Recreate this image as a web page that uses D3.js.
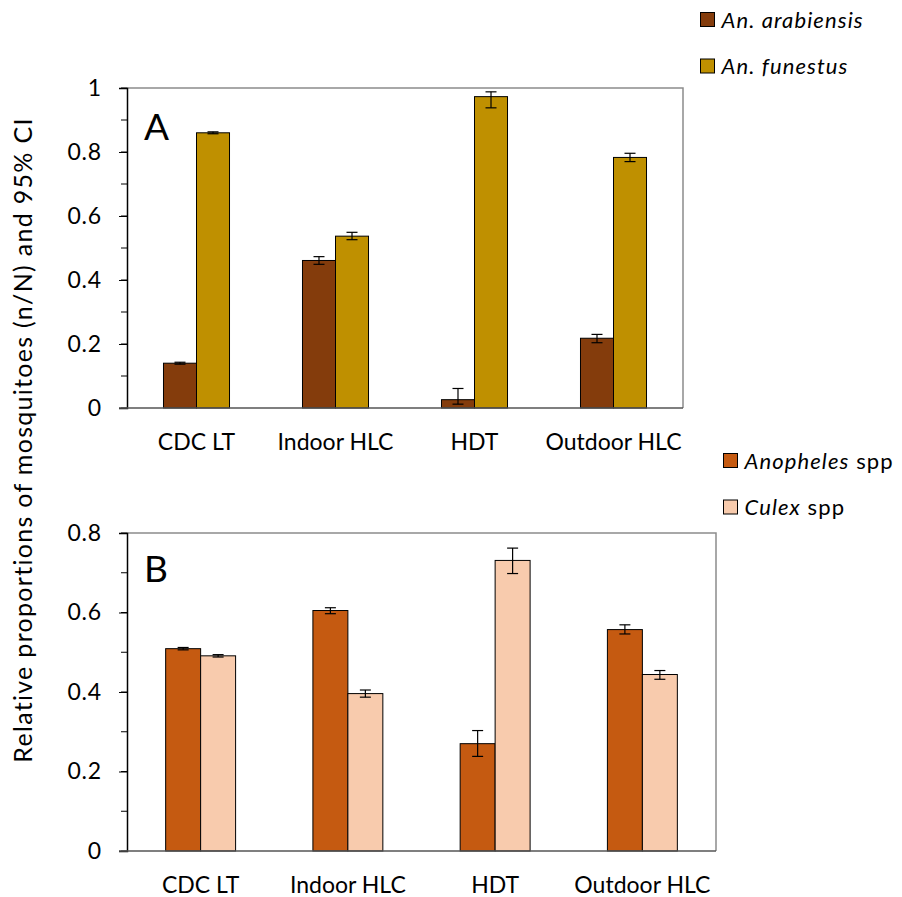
<!DOCTYPE html>
<html>
<head>
<meta charset="utf-8">
<script src="https://cdn.jsdelivr.net/npm/d3@7"></script>
<style>
  body { margin: 0; background: #fff; }
  text { font-family: Lato, "Open Sans", sans-serif; fill: #000; }
</style>
</head>
<body>
<svg id="chart" width="902" height="897"></svg>
<script>
// categories shared by both panels
const categories = ["CDC LT", "Indoor HLC", "HDT", "Outdoor HLC"];

// panel A - species composition
const arabiensis   = [0.140, 0.461, 0.026, 0.218];
const arabiensisLo = [0.137, 0.449, 0.012, 0.204];
const arabiensisHi = [0.143, 0.473, 0.061, 0.230];
const funestus     = [0.860, 0.537, 0.973, 0.783];
const funestusLo   = [0.857, 0.526, 0.938, 0.770];
const funestusHi   = [0.863, 0.549, 0.988, 0.796];
const ticksA = [0, 0.2, 0.4, 0.6, 0.8, 1];

// panel B - genus composition
const anopheles   = [0.509, 0.605, 0.270, 0.557];
const anophelesLo = [0.506, 0.597, 0.238, 0.546];
const anophelesHi = [0.512, 0.612, 0.303, 0.569];
const culex       = [0.491, 0.396, 0.731, 0.444];
const culexLo     = [0.488, 0.387, 0.698, 0.432];
const culexHi     = [0.494, 0.405, 0.762, 0.454];
const ticksB = [0, 0.2, 0.4, 0.6, 0.8];

const svg = d3.select("#chart");

//------------------------------one panel-------------------------------------
function panel(opt) {
  const x = d3.scaleBand().domain(categories).range([opt.left, opt.right]).padding(0);
  const y = d3.scaleLinear().domain([0, opt.max]).range([opt.bottom, opt.top]);
  const bw = x.bandwidth() * 0.2375;
  const g = svg.append("g");

  // frame (grey top/right)
  g.append("path")
    .attr("d", `M${opt.left},${opt.top}H${opt.right}V${opt.bottom}`)
    .attr("fill", "none").attr("stroke", "#8c8c8c").attr("stroke-width", 1.5);

  // minor ticks
  const minor = d3.range(0, opt.max + 0.001, 0.1);
  g.selectAll(".minor").data(minor).join("line")
    .attr("x1", opt.left - 6).attr("x2", opt.left)
    .attr("y1", d => y(d)).attr("y2", d => y(d))
    .attr("stroke", "#000").attr("stroke-width", 1);

  // y axis
  const yAxis = d3.axisLeft(y).tickValues(opt.ticks).tickSize(8).tickPadding(17)
    .tickFormat(d => d === 0 || d === 1 ? d3.format("d")(d) : d3.format(".1f")(d));
  const ya = g.append("g").attr("transform", `translate(${opt.left},0)`).call(yAxis);
  ya.select(".domain").attr("stroke", "#000").attr("stroke-width", 1.5);
  ya.selectAll(".tick line").attr("stroke", "#000");
  ya.selectAll("text").style("font-size", "23px").style("letter-spacing", "0.8px").attr("fill", "#000");

  // series
  opt.series.forEach((s, si) => {
    const off = si === 0 ? -bw : 0;
    g.selectAll(".bar" + si).data(categories).join("rect")
      .attr("x", d => x(d) + x.bandwidth() / 2 + off)
      .attr("y", (d, i) => y(s.values[i]))
      .attr("width", bw)
      .attr("height", (d, i) => opt.bottom - y(s.values[i]))
      .attr("fill", s.color).attr("stroke", "#000").attr("stroke-width", 1);

    // error bars
    categories.forEach((c, i) => {
      const cx = x(c) + x.bandwidth() / 2 + off + bw / 2;
      const e = g.append("g").attr("stroke", "#000").attr("stroke-width", 1.2);
      e.append("line").attr("x1", cx).attr("x2", cx).attr("y1", y(s.lo[i])).attr("y2", y(s.hi[i]));
      e.append("line").attr("x1", cx - 5.5).attr("x2", cx + 5.5).attr("y1", y(s.lo[i])).attr("y2", y(s.lo[i]));
      e.append("line").attr("x1", cx - 5.5).attr("x2", cx + 5.5).attr("y1", y(s.hi[i])).attr("y2", y(s.hi[i]));
    });
  });

  // bottom axis line
  g.append("line")
    .attr("x1", opt.left - 8).attr("x2", opt.right)
    .attr("y1", opt.bottom).attr("y2", opt.bottom)
    .attr("stroke", "#555").attr("stroke-width", 1.5);

  // category labels
  g.selectAll(".cat").data(categories).join("text")
    .attr("x", d => x(d) + x.bandwidth() / 2)
    .attr("y", opt.bottom + 42)
    .attr("text-anchor", "middle")
    .style("font-size", "23px")
    .text(d => d);

  // panel letter
  g.append("text").attr("x", opt.left + 17).attr("y", opt.letterY)
    .style("font-size", "37px").text(opt.letter);

  // legend
  opt.series.forEach((s, si) => {
    const ly = opt.legY + si * 46.5;
    g.append("rect").attr("x", opt.legX).attr("y", ly).attr("width", 14).attr("height", 14)
      .attr("fill", s.color).attr("stroke", "#000").attr("stroke-width", 1);
    const t = g.append("text").attr("x", opt.legX + 21).attr("y", ly + 15)
      .style("font-size", "22px").style("letter-spacing", "1.1px");
    t.append("tspan").style("font-style", "italic").text(s.name);
    if (s.suffix) t.append("tspan").text(s.suffix);
  });
}

panel({
  left: 127, right: 683, top: 88, bottom: 408, max: 1, ticks: ticksA,
  letter: "A", letterY: 140, legX: 700.5, legY: 12.5,
  series: [
    { name: "An. arabiensis", color: "#843c0c", values: arabiensis, lo: arabiensisLo, hi: arabiensisHi },
    { name: "An. funestus", color: "#bf9000", values: funestus, lo: funestusLo, hi: funestusHi }
  ]
});

panel({
  left: 127, right: 716, top: 533, bottom: 851, max: 0.8, ticks: ticksB,
  letter: "B", letterY: 582, legX: 723.5, legY: 453.5,
  series: [
    { name: "Anopheles", suffix: " spp", color: "#c55a11", values: anopheles, lo: anophelesLo, hi: anophelesHi },
    { name: "Culex", suffix: " spp", color: "#f8cbad", values: culex, lo: culexLo, hi: culexHi }
  ]
});

// shared y axis title
svg.append("text")
  .attr("transform", "translate(32,440) rotate(-90)")
  .attr("text-anchor", "middle")
  .style("font-size", "25px")
  .style("letter-spacing", "1.3px")
  .text("Relative proportions of mosquitoes (n/N) and 95% CI");
</script>
</body>
</html>
